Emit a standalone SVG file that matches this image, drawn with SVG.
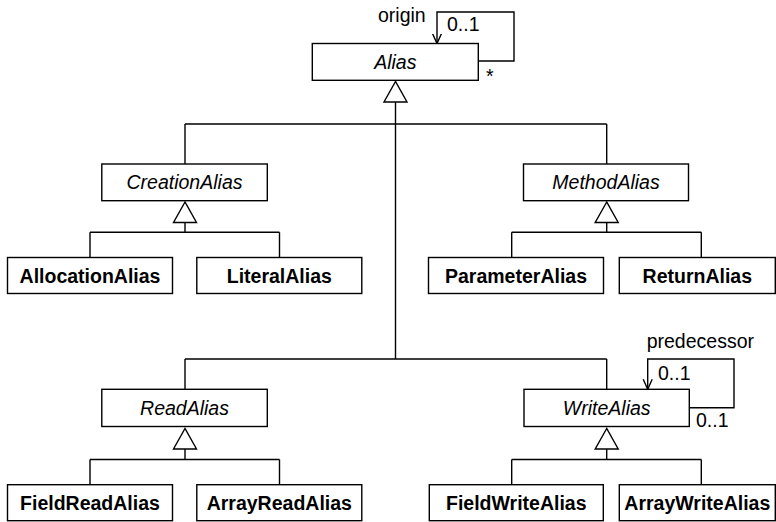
<svg xmlns="http://www.w3.org/2000/svg" width="776" height="522" viewBox="0 0 776 522">
<style>
rect.box{fill:#fff;stroke:#000;stroke-width:1.4}
.ab{font-family:"Liberation Sans",Arial,sans-serif;font-style:italic;font-size:19.5px;text-anchor:middle;fill:#000}
.cl{font-family:"Liberation Sans",Arial,sans-serif;font-weight:bold;font-size:19.5px;text-anchor:middle;fill:#000}
.lb{font-family:"Liberation Sans",Arial,sans-serif;font-size:19.5px;fill:#000}
.ln{fill:none;stroke:#000;stroke-width:1.4}
.tri{fill:#fff;stroke:#000;stroke-width:1.4}
</style>
<defs>
<marker id="open" markerWidth="12" markerHeight="14" refX="10" refY="5" orient="auto" markerUnits="userSpaceOnUse" viewBox="0 0 12 10">
<path d="M0,0.5 L10,5 L0,9.5" fill="none" stroke="#000" stroke-width="1.4"/>
</marker>
</defs>
<rect width="776" height="522" fill="#fff"/>
<g id="connectors">
<!-- Alias generalization -->
<path class="ln" d="M395.5,102 V359 M185,124 H606.7 M185,124 V164 M606.7,124 V164 M185,359 H606.7 M185,359 V389.3 M606.7,359 V389.3"/>
<polygon class="tri" points="395.5,81.5 384,102 407,102"/>
<!-- CreationAlias -->
<path class="ln" d="M185,222.5 V232.3 M90,232.3 H279.5 M90,232.3 V257.5 M279.5,232.3 V257.5"/>
<polygon class="tri" points="185,202 173.5,222.5 196.5,222.5"/>
<!-- MethodAlias -->
<path class="ln" d="M606.7,222.5 V232.3 M511.7,232.3 H701.3 M511.7,232.3 V257.5 M701.3,232.3 V257.5"/>
<polygon class="tri" points="606.7,202 595.2,222.5 618.2,222.5"/>
<!-- ReadAlias -->
<path class="ln" d="M185,449 V459.5 M90,459.5 H279.5 M90,459.5 V484.7 M279.5,459.5 V484.7"/>
<polygon class="tri" points="185,428.5 173.5,449 196.5,449"/>
<!-- WriteAlias -->
<path class="ln" d="M606.7,449 V459.5 M511.7,459.5 H701.3 M511.7,459.5 V484.7 M701.3,459.5 V484.7"/>
<polygon class="tri" points="606.7,428.5 595.2,449 618.2,449"/>
<!-- self associations -->
<path class="ln" d="M478.3,61 H514 V12 H437 V43.5" marker-end="url(#open)"/>
<path class="ln" d="M689.3,407.7 H734 V359 H647.7 V389.3" marker-end="url(#open)"/>
</g>
<g id="labels">
<text class="lb" x="378" y="21.5">origin</text>
<text class="lb" x="447" y="30.5">0..1</text>
<text class="lb" x="486" y="83">*</text>
<text class="lb" x="646.7" y="347.5">predecessor</text>
<text class="lb" x="658" y="380">0..1</text>
<text class="lb" x="696" y="426.5">0..1</text>
</g>
<g id="Alias"><rect class="box" x="312.3" y="43.5" width="166" height="36.8"/><text class="ab" x="395.3" y="68.7">Alias</text></g>
<g id="CreationAlias"><rect class="box" x="101.8" y="164" width="165.5" height="36.7"/><text class="ab" x="184.5" y="189">CreationAlias</text></g>
<g id="MethodAlias"><rect class="box" x="523.5" y="164" width="165" height="36.7"/><text class="ab" x="606" y="189">MethodAlias</text></g>
<g id="AllocationAlias"><rect class="box" x="7.5" y="257.5" width="165" height="36"/><text class="cl" x="90" y="282.5">AllocationAlias</text></g>
<g id="LiteralAlias"><rect class="box" x="196.8" y="257.5" width="165" height="36"/><text class="cl" x="279.3" y="282.5">LiteralAlias</text></g>
<g id="ParameterAlias"><rect class="box" x="428.5" y="257.5" width="175" height="36"/><text class="cl" x="516" y="282.5">ParameterAlias</text></g>
<g id="ReturnAlias"><rect class="box" x="619.3" y="257.5" width="156" height="36"/><text class="cl" x="697.3" y="282.5">ReturnAlias</text></g>
<g id="ReadAlias"><rect class="box" x="101.8" y="389.3" width="165.5" height="37.2"/><text class="ab" x="184.5" y="414.5">ReadAlias</text></g>
<g id="WriteAlias"><rect class="box" x="524" y="389.3" width="165.3" height="37.2"/><text class="ab" x="606.7" y="414.5">WriteAlias</text></g>
<g id="FieldReadAlias"><rect class="box" x="7.5" y="484.7" width="165" height="36"/><text class="cl" x="90" y="509.5">FieldReadAlias</text></g>
<g id="ArrayReadAlias"><rect class="box" x="196.8" y="484.7" width="165" height="36"/><text class="cl" x="279.3" y="509.5">ArrayReadAlias</text></g>
<g id="FieldWriteAlias"><rect class="box" x="429.3" y="484.7" width="174" height="36"/><text class="cl" x="516.3" y="509.5">FieldWriteAlias</text></g>
<g id="ArrayWriteAlias"><rect class="box" x="619.3" y="484.7" width="156" height="36"/><text class="cl" x="697.3" y="509.5">ArrayWriteAlias</text></g>
</svg>
